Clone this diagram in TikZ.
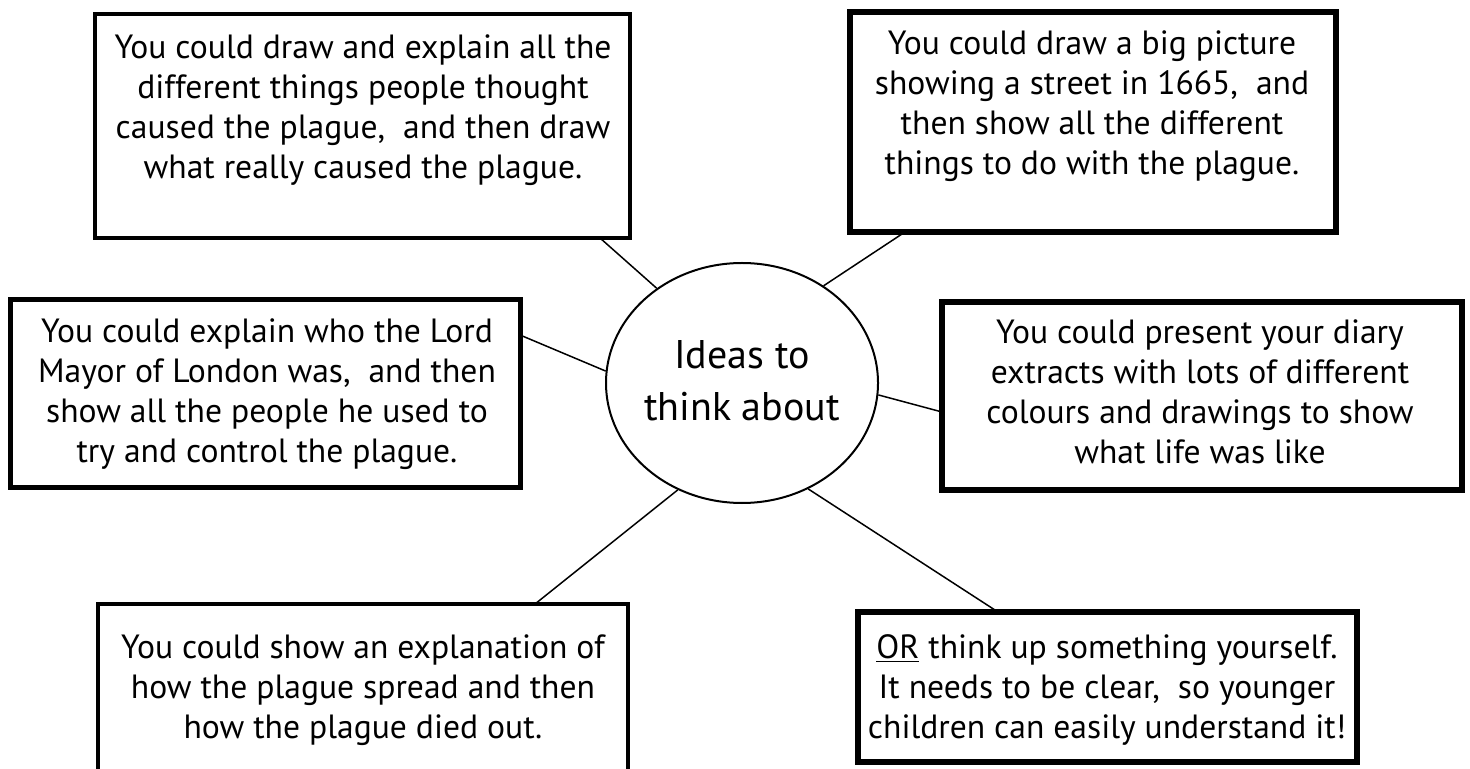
\documentclass[tikz,border=0pt]{standalone}
\usepackage{fontspec}
\setmainfont{PT Sans}
\usetikzlibrary{shapes.geometric}
\begin{document}
\begin{tikzpicture}[x=0.5pt,y=-0.5pt,
  box/.style={draw, rectangle, inner sep=0pt},
  txt/.style={align=center, font=\fontsize{16.8}{20}\selectfont, inner sep=0pt},
  conn/.style={line width=0.75pt}]
\clip (0,0) rectangle (1470,769);
\fill[white] (0,0) rectangle (1470,769);
% boxes
\node[box, line width=1.8pt, minimum width=267.5pt, minimum height=112pt] (b1) at (362.5,126) {};
\node[box, line width=3pt, minimum width=243pt, minimum height=110pt] (b2) at (1093,122) {};
\node[box, line width=2.5pt, minimum width=255pt, minimum height=93.5pt] (b3) at (265,393.5) {};
\node[box, line width=2.8pt, minimum width=260pt, minimum height=94pt] (b4) at (1202,396) {};
\node[box, line width=1.6pt, minimum width=265pt, minimum height=98pt] (b5) at (363,702) {};
\node[box, line width=2.6pt, minimum width=249.5pt, minimum height=75pt] (b6) at (1107.5,687) {};
% texts
\node[txt] (t1) at (363,110) {You could draw and explain all the\\different things people thought\\caused the plague,\ \ and then draw\\what really caused the plague.};
\node[txt] (t2) at (1092,106) {You could draw a big picture\\showing a street in 1665,\ \ and\\then show all the different\\things to do with the plague.};
\node[txt] (t3) at (267,394) {You could explain who the Lord\\Mayor of London was,\ \ and then\\show all the people he used to\\try and control the plague.};
\node[txt] (t4) at (1200,392) {You could present your diary\\extracts with lots of different\\colours and drawings to show\\what life was like};
\node[txt] (t5) at (363,690) {You could show an explanation of\\how the plague spread and then\\how the plague died out.};
\node[txt] (t6) at (1107,690) {\underline{OR} think up something yourself.\\It needs to be clear,\ \ so younger\\children can easily understand it!};
% centre
\node[draw, ellipse, line width=1pt, minimum width=136pt, minimum height=120pt, inner sep=0pt] (e) at (742,383) {};
\node[align=center, font=\fontsize{20}{26}\selectfont, inner sep=0pt] (te) at (742,381) {Ideas to\\think about};
% connectors
\coordinate (c1) at (600,238);
\coordinate (c2) at (905,232);
\coordinate (c3) at (520,335);
\coordinate (c4) at (942,412);
\coordinate (c5) at (535,604);
\coordinate (c6) at (998,612);
\draw[conn] (c1) -- (e.132.6);
\draw[conn] (c2) -- (e.50.9);
\draw[conn] (c3) -- (e.175.3);
\draw[conn] (e.-5.1) -- (c4);
\draw[conn] (e.-121.2) -- (c5);
\draw[conn] (e.-58.4) -- (c6);
\end{tikzpicture}
\end{document}
